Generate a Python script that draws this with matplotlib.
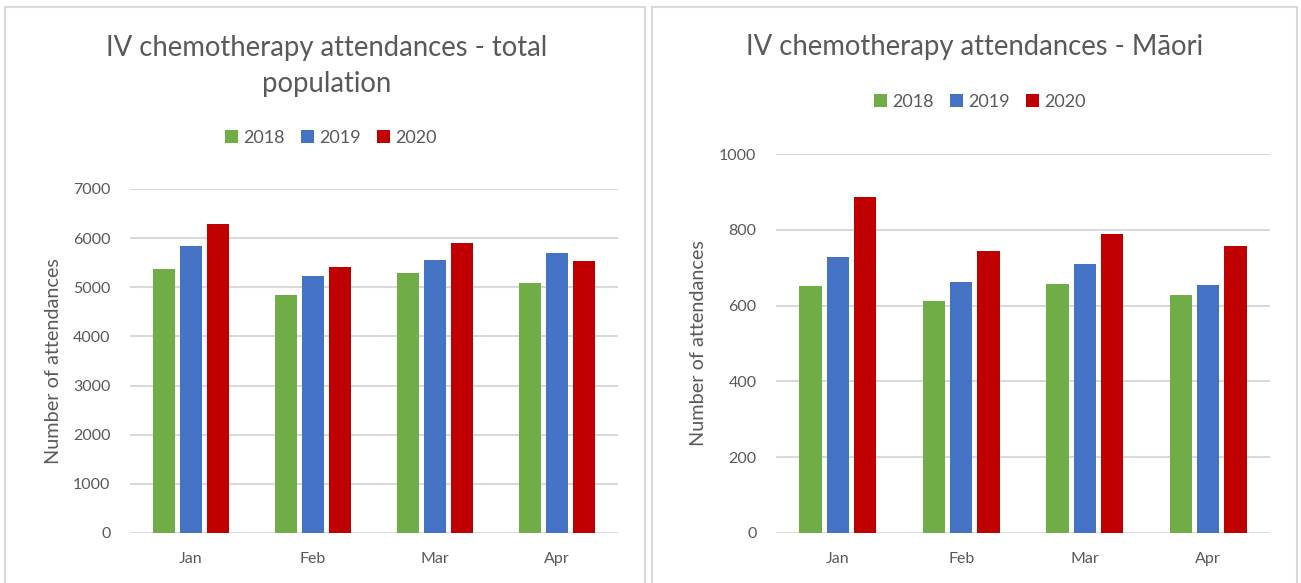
import matplotlib
matplotlib.use("Agg")
import matplotlib.pyplot as plt
from matplotlib.patches import Rectangle, Patch
from matplotlib.transforms import blended_transform_factory
import numpy as np

months = ["Jan", "Feb", "Mar", "Apr"]
years = ["2018", "2019", "2020"]

# IV chemotherapy attendances - total population
total_2018 = [5370, 4850, 5285, 5095]
total_2019 = [5840, 5220, 5550, 5695]
total_2020 = [6285, 5420, 5910, 5525]

# IV chemotherapy attendances - Maori
maori_2018 = [651, 612, 656, 628]
maori_2019 = [729, 661, 710, 654]
maori_2020 = [886, 743, 788, 757]

COLORS = ["#70AD47", "#4472C4", "#C00000"]
TXT = "#595959"
GRID = "#D9D9D9"

plt.rcParams["font.family"] = ["Lato", "DejaVu Sans"]

W, H = 1301, 583
fig = plt.figure(figsize=(W / 100, H / 100), dpi=100)


def px(x0, y0, x1, y1):
    # pixel box -> figure fraction [left, bottom, width, height]
    return [x0 / W, 1 - y1 / H, (x1 - x0) / W, (y1 - y0) / H]


# panel frames
for x0, x1 in [(5, 645), (652, 1297)]:
    fig.add_artist(Rectangle((x0 / W, -0.05), (x1 - x0) / W, 1 - 7 / H + 0.05,
                             transform=fig.transFigure, fill=False,
                             edgecolor=GRID, linewidth=1.5))


def draw(ax, series, ymax, step, ylab_x):
    x = np.arange(len(months))
    width = 0.18
    for i, (vals, c) in enumerate(zip(series, COLORS)):
        ax.bar(x + (i - 1) * 0.22, vals, width, color=c, zorder=3)
    ax.set_xlim(-0.5, len(months) - 0.5)
    ax.set_ylim(0, ymax)
    ax.set_yticks(np.arange(0, ymax + 1, step))
    ax.set_xticks(x)
    ax.set_xticklabels(months)
    ax.grid(axis="y", color=GRID, linewidth=1.5, zorder=0)
    for s in ax.spines.values():
        s.set_visible(False)
    ax.tick_params(axis="both", length=0, colors=TXT, labelsize=11.5)
    ax.tick_params(axis="y", pad=14)
    ax.tick_params(axis="x", pad=14)
    ax.set_ylabel("Number of attendances", color=TXT, fontsize=14.3)
    # x fixed in figure space, y at the axis centre
    ax.yaxis.set_label_coords(ylab_x, 0.5,
                              transform=blended_transform_factory(fig.transFigure, ax.transAxes))


ax1 = fig.add_axes(px(130, 189, 618, 533))
draw(ax1, [total_2018, total_2019, total_2020], 7000, 1000, 62 / W)

ax2 = fig.add_axes(px(776, 154, 1270, 533))
draw(ax2, [maori_2018, maori_2019, maori_2020], 1000, 200, 707 / W)

fig.text(327 / W, 1 - 66 / H, "IV chemotherapy attendances - total\npopulation",
         ha="center", va="center", color=TXT, fontsize=19.8, linespacing=1.5)
fig.text(975 / W, 1 - 47 / H, "IV chemotherapy attendances - M\u0101ori",
         ha="center", va="center", color=TXT, fontsize=19.8)

handles = [Patch(facecolor=c) for c in COLORS]
for cx, cy in [(331, 138), (980, 102)]:
    fig.legend(handles, years, loc="center", bbox_to_anchor=(cx / W, 1 - cy / H),
               ncol=3, frameon=False, fontsize=13, labelcolor=TXT,
               handlelength=0.7, handleheight=0.7, handletextpad=0.3,
               columnspacing=0.9)

fig.savefig("out.png", dpi=100, facecolor="white")
